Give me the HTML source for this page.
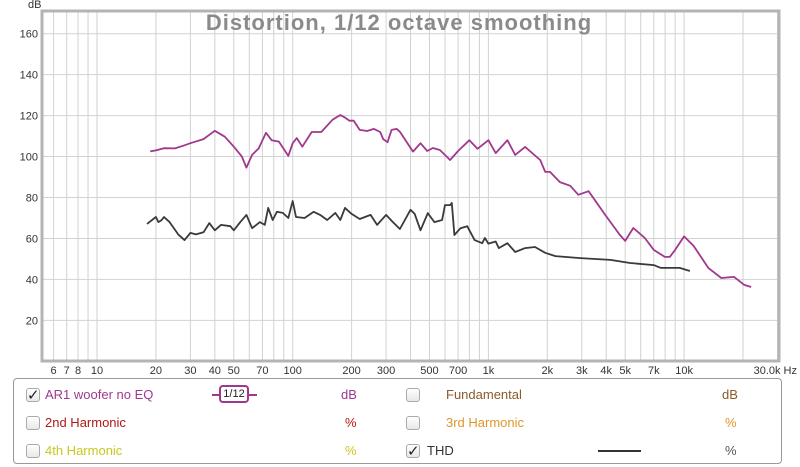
<!DOCTYPE html>
<html><head><meta charset="utf-8"><style>
body{margin:0;background:#fff;width:800px;height:467px;overflow:hidden;font-family:"Liberation Sans",sans-serif}
#legend{position:absolute;left:13px;top:378px;width:769px;height:86px;border:1px solid #999;border-radius:4px;box-sizing:border-box;font-size:13px}
.item{position:absolute;height:16px;line-height:16px}
.cb{position:absolute;width:12px;height:12px;border:1px solid #aaa;border-radius:3px;background:linear-gradient(#fff,#e8e8e8)}
.chk{position:absolute;left:0;top:-3px;font-size:15px;color:#222}
</style></head><body>
<svg id="chart" width="800" height="376" style="position:absolute;left:0;top:0" font-family="Liberation Sans, sans-serif"></svg>
<div id="legend">
 <div class="cb" style="left:12px;top:9px"><span class="chk">✓</span></div>
 <div class="item" style="left:31px;top:8px;color:#a0388e">AR1 woofer no EQ</div>
 <div style="position:absolute;left:198px;top:15px;width:45px;height:2px;background:#a0388e"></div>
 <div style="position:absolute;left:205px;top:6px;width:30px;height:18px;border:2px solid #a0388e;border-radius:4px;box-sizing:border-box;font-size:11px;text-align:center;line-height:14px;color:#222;background:#fff">1/12</div>
 <div class="item" style="left:327px;top:8px;color:#a0388e">dB</div>
 <div class="cb" style="left:392px;top:9px"></div>
 <div class="item" style="left:432px;top:8px;color:#8b5a2b">Fundamental</div>
 <div class="item" style="left:708px;top:8px;color:#8b5a2b">dB</div>
 <div class="cb" style="left:12px;top:37px"></div>
 <div class="item" style="left:31px;top:36px;color:#b01818">2nd Harmonic</div>
 <div class="item" style="left:331px;top:36px;color:#b01818">%</div>
 <div class="cb" style="left:392px;top:37px"></div>
 <div class="item" style="left:432px;top:36px;color:#e0962a">3rd Harmonic</div>
 <div class="item" style="left:711px;top:36px;color:#e0962a">%</div>
 <div class="cb" style="left:12px;top:65px"></div>
 <div class="item" style="left:31px;top:64px;color:#c8c81e">4th Harmonic</div>
 <div class="item" style="left:331px;top:64px;color:#c8c81e">%</div>
 <div class="cb" style="left:392px;top:65px"><span class="chk">✓</span></div>
 <div class="item" style="left:413px;top:64px;color:#333">THD</div>
 <div style="position:absolute;left:584px;top:71px;width:43px;height:2px;background:#333"></div>
 <div class="item" style="left:711px;top:64px;color:#555">%</div>
</div>
<script>
const magF=[18.7,20,22,25,28,30,35,40,45,50,55,58,62,67,73,78,85,95,100,105,112,125,140,160,175,185,195,205,220,240,260,280,290,305,320,340,353,412,450,487,520,565,637,700,800,880,1000,1090,1250,1370,1540,1840,1950,2065,2320,2620,2880,3250,3950,4700,5000,5500,6300,7000,7970,8450,9000,10000,11200,13300,15500,18000,20300,22000];
const magDb=[102.5,103,104.1,104,105.5,106.5,108.5,112.6,109.7,104.8,100,94.6,100.8,104,111.6,108,107.3,100.3,106.5,109,104.8,112,112,118,120.3,119,117.5,117.5,113,112.5,113.5,112,108.5,107,113,113.5,112.1,102.4,106.5,102.7,104.2,103.2,98.3,102.7,108,103.8,108,101.7,108,100.8,104.7,98.3,92.5,92.5,87.5,85.7,81.3,83.1,71.5,61.7,58.8,65.1,60.2,54.4,51,51,54.4,61,56.3,45.6,40.7,41.2,37.3,36.3];
const thdF=[18,20,20.6,21.4,22,23.5,26,28,30,32,35,37.5,40,43,48,50,54,58,62,68,72,75,79,83,89,95,100,104,115,128,138,150,165,175,185,200,220,250,270,300,325,353,400,420,450,490,530,580,600,637,650,670,720,780,800,850,930,960,1000,1090,1130,1250,1370,1540,1730,1950,2200,2950,4200,5300,7000,7600,9500,10700];
const thdDb=[67.1,70.5,68,69,70.5,68,62,59.2,62.7,62,63,67.5,64,66.6,66,64,68,71.5,65,68,66.6,74.9,69,73,72.5,70,78.3,70.5,70,73,71.5,69,72.5,69,74.9,72,69.5,71.5,66.6,71.5,68,64.6,74,72,64,72.4,68,69,76.3,76.3,77.3,61.7,65,66,64,59.2,57.7,60.2,57.5,58.5,55.3,57.7,53.4,55.3,55.8,53,51.4,50.4,49.5,48,47,45.6,45.6,44.1];
const yTicks=[20,40,60,80,100,120,140,160];
const xTickVals=[6,7,8,10,20,30,40,50,70,100,200,300,500,700,1000,2000,3000,4000,5000,7000,10000,30000];
const xTickLabels=["6","7","8","10","20","30","40","50","70","100","200","300","500","700","1k","2k","3k","4k","5k","7k","10k","30.0k Hz"];
const L=42,R=779,T=11,B=361,dec=195.7;
const X=f=>97+(Math.log10(f)-1)*dec;
const Y=d=>361.3-d*2.0475;
const svg=document.getElementById('chart');const NS='http://www.w3.org/2000/svg';
function mk(t,a,p){const e=document.createElementNS(NS,t);for(const k in a)e.setAttribute(k,a[k]);(p||svg).appendChild(e);return e;}
const grid=mk('g',{});


for(let e=0;e<5;e++)for(let m=1;m<10;m++){const f=m*Math.pow(10,e);const x=X(f);if(x>L&&x<R)mk('line',{x1:x,x2:x,y1:T,y2:B,stroke:'#d2d2d2','stroke-width':1},grid);}
yTicks.forEach(v=>{mk('line',{x1:L,x2:R,y1:Y(v),y2:Y(v),stroke:'#d2d2d2','stroke-width':1},grid);const t=mk('text',{x:38,y:Y(v)+4,'text-anchor':'end','font-size':11,fill:'#333'});t.textContent=v;});
xTickVals.forEach((v,i)=>{const last=i==xTickLabels.length-1;const t=mk('text',{x:last?797:X(v),y:374,'text-anchor':last?'end':'middle','font-size':11,fill:'#333'});t.textContent=xTickLabels[i];});
const frame=mk('rect',{x:L,y:T,width:R-L,height:B-T,fill:'none',stroke:'#b4b4b4','stroke-width':3});


const yu=mk('text',{x:28,y:8,'font-size':11,fill:'#333'});yu.textContent='dB';


const title=mk('text',{x:399,y:30,'text-anchor':'middle','font-size':22,'font-weight':'bold',fill:'#8a8a8a','letter-spacing':'1'});title.textContent='Distortion, 1/12 octave smoothing';


function line(F,D,c,name){const p=mk('path',{d:F.map((f,i)=>(i?'L':'M')+X(f).toFixed(1)+' '+Y(D[i]).toFixed(1)).join(''),fill:'none',stroke:c,'stroke-width':1.8,'stroke-linejoin':'round'});}
line(magF,magDb,'#a0388e','ar1-response-line');
line(thdF,thdDb,'#3a3a3a','thd-line');
</script>
</body></html>
